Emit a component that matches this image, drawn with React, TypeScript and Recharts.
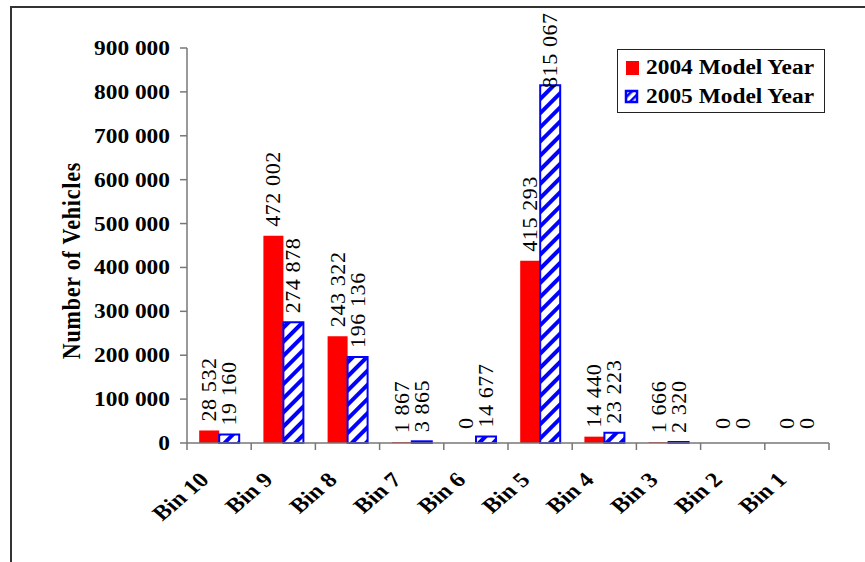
import { Bar, BarChart, XAxis, YAxis, Legend, Rectangle } from "recharts";

const bins = ["Bin 10", "Bin 9", "Bin 8", "Bin 7", "Bin 6", "Bin 5", "Bin 4", "Bin 3", "Bin 2", "Bin 1"];
const year2004 = [28532, 472002, 243322, 1867, 0, 415293, 14440, 1666, 0, 0];
const year2005 = [19160, 274878, 196136, 3865, 14677, 815067, 23223, 2320, 0, 0];
const yTicks = [0, 100000, 200000, 300000, 400000, 500000, 600000, 700000, 800000, 900000];

const data = bins.map((bin, i) => ({ bin, y2004: year2004[i], y2005: year2005[i] }));

const W = 865;
const H = 562;
const margin = { top: 48, right: 36, left: 87, bottom: 59 };
const plotW = W - margin.left - 100 - margin.right;
const band = plotW / bins.length;
const baseY = H - margin.bottom - 60;

const serif = "'Liberation Serif', 'Times New Roman', serif";
const RED = "#ff0000";
const BLUE = "#0000ff";
const AXIS = "#777";
const SX = 1.17; // horizontal stretch of the original picture

const fmt = (v: number) => String(v).replace(/\B(?=(\d{3})+(?!\d))/g, " ");

function XTick(props: any) {
  const { x, y, payload, index } = props;
  const left = x - band / 2;
  const ax = x - 9;
  const ay = y + 30;
  return (
    <g>
      <line x1={left} y1={y - 8} x2={left} y2={y - 1} stroke={AXIS} strokeWidth={1.5} />
      {index === bins.length - 1 && (
        <line x1={left + band} y1={y - 8} x2={left + band} y2={y - 1} stroke={AXIS} strokeWidth={1.5} />
      )}
      <text
        transform={`translate(${ax}, ${ay}) scale(${SX}, 1) rotate(-45)`}
        textAnchor="end"
        fontFamily={serif}
        fontWeight="bold"
        fontSize={21}
        fill="#000"
      >
        {payload.value}
      </text>
    </g>
  );
}

function YTick(props: any) {
  const { x, y, payload } = props;
  return (
    <text
      transform={`translate(${x}, ${y}) scale(${SX}, 1)`}
      dy="0.35em"
      textAnchor="end"
      fontFamily={serif}
      fontWeight="bold"
      fontSize={20}
      fill="#000"
    >
      {fmt(payload.value)}
    </text>
  );
}

function valueText(cx: number, top: number, value: number) {
  const gap = value === 0 ? 14 : 9;
  const by = Math.max(Math.min(top, baseY) - gap, 88);
  return (
    <text
      x={cx}
      y={by}
      dy="0.36em"
      transform={`rotate(-90, ${cx}, ${by})`}
      textAnchor="start"
      fontFamily={serif}
      fontSize={22}
      letterSpacing={0.6}
      fill="#000"
    >
      {fmt(value)}
    </text>
  );
}

function BarWithLabel(props: any) {
  const { x, y, width, height, value, fill, stroke, strokeWidth } = props;
  const v = Array.isArray(value) ? value[1] - value[0] : value;
  return (
    <g>
      {height > 0 && (
        <Rectangle x={x} y={y} width={width} height={height} fill={fill} stroke={stroke} strokeWidth={strokeWidth} />
      )}
      {valueText(x + width / 2 - 1, y, v)}
    </g>
  );
}

function YTitle(props: any) {
  const vb = props.viewBox;
  const tx = vb.x - 16;
  const ty = vb.y + vb.height / 2 + 15;
  return (
    <text
      transform={`translate(${tx}, ${ty}) scale(${SX}, 1) rotate(-90)`}
      dy="0.35em"
      textAnchor="middle"
      fontFamily={serif}
      fontWeight="bold"
      fontSize={22}
      letterSpacing={0.8}
      fill="#000"
    >
      Number of Vehicles
    </text>
  );
}

function Swatch({ hatched }: { hatched: boolean }) {
  return (
    <svg width={16} height={16} style={{ display: "block", marginRight: 6 }}>
      <defs>
        <pattern id="legendHatch" patternUnits="userSpaceOnUse" width={6} height={6} patternTransform="rotate(45)">
          <rect x={0} y={0} width={2.5} height={6} fill={BLUE} />
        </pattern>
      </defs>
      {hatched ? (
        <rect x={2} y={2} width={11} height={11} fill="url(#legendHatch)" stroke={BLUE} strokeWidth={2.5} />
      ) : (
        <rect x={2} y={1} width={13} height={14} fill={RED} />
      )}
    </svg>
  );
}

function LegendBox() {
  const rows = [
    { label: "2004 Model Year", hatched: false },
    { label: "2005 Model Year", hatched: true },
  ];
  return (
    <div
      style={{
        border: "1.5px solid #222",
        boxSizing: "border-box",
        width: 208,
        height: 64,
        padding: "3px 0 0 6px",
        background: "#fff",
      }}
    >
      {rows.map((r) => (
        <div key={r.label} style={{ display: "flex", alignItems: "center", height: 29 }}>
          <Swatch hatched={r.hatched} />
          <span
            style={{
              display: "inline-block",
              fontFamily: serif,
              fontWeight: "bold",
              fontSize: 20,
              color: "#000",
              lineHeight: "29px",
              whiteSpace: "nowrap",
              transform: `scaleX(${SX})`,
              transformOrigin: "left center",
            }}
          >
            {r.label}
          </span>
        </div>
      ))}
    </div>
  );
}

export default function App() {
  return (
    <div style={{ position: "absolute", left: 0, top: 0, width: W, height: H, background: "#fff" }}>
      <div
        style={{
          position: "absolute",
          left: 10,
          top: 6,
          width: W - 10,
          height: H - 6,
          borderLeft: "2px solid #333",
          borderTop: "2px solid #333",
          boxSizing: "border-box",
        }}
      />
      <BarChart
        width={W}
        height={H}
        data={data}
        margin={margin}
        barCategoryGap="19%"
        barGap={0}
        style={{ position: "absolute", left: 0, top: 0 }}
      >
        <defs>
          <pattern id="hatch2005" patternUnits="userSpaceOnUse" width={10} height={10} patternTransform="rotate(45)">
            <rect x={0} y={0} width={4} height={10} fill={BLUE} />
          </pattern>
        </defs>
        <XAxis
          dataKey="bin"
          height={60}
          interval={0}
          tickLine={false}
          axisLine={{ stroke: AXIS, strokeWidth: 1.5 }}
          tick={<XTick />}
        />
        <YAxis
          width={100}
          domain={[0, 900000]}
          ticks={yTicks}
          interval={0}
          tickSize={7}
          tickMargin={10}
          axisLine={{ stroke: AXIS, strokeWidth: 1.5 }}
          tickLine={{ stroke: AXIS, strokeWidth: 1.5 }}
          tick={<YTick />}
          label={<YTitle />}
        />
        <Legend
          layout="vertical"
          align="center"
          verticalAlign="middle"
          content={() => <LegendBox />}
          wrapperStyle={{ left: 617, top: 49, width: 208, height: 64 }}
        />
        <Bar dataKey="y2004" fill={RED} isAnimationActive={false} shape={<BarWithLabel />} />
        <Bar
          dataKey="y2005"
          fill="url(#hatch2005)"
          stroke={BLUE}
          strokeWidth={2}
          isAnimationActive={false}
          shape={<BarWithLabel />}
        />
      </BarChart>
    </div>
  );
}
